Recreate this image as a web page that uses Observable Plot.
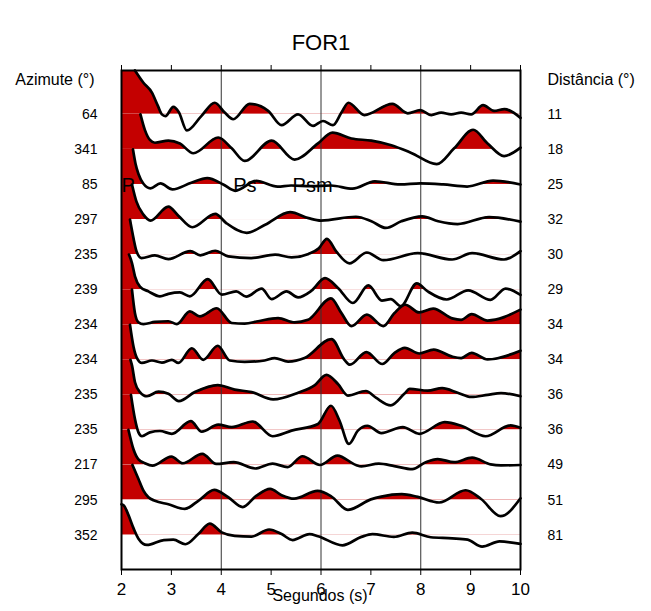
<!DOCTYPE html>
<html><head><meta charset="utf-8">
<script src="https://cdn.jsdelivr.net/npm/d3@7"></script>
<script src="https://cdn.jsdelivr.net/npm/@observablehq/plot@0.6"></script>
<style>body{margin:0;background:#fff}</style>
</head><body><div id="chart"></div>
<script>
// ---- data (time in s, amplitude in units of trace spacing) ----
const title = "FOR1";
const azimuths = [64, 341, 85, 297, 235, 239, 234, 234, 235, 235, 217, 295, 352];
const distances = [11, 18, 25, 32, 30, 29, 34, 34, 36, 36, 49, 51, 81];
const xTicks = [2, 3, 4, 5, 6, 7, 8, 9, 10];
const gridTimes = [4, 6, 8];
const phaseNames = ["P", "Ps", "Psm"];
const phaseTimes = [2.0, 4.24, 5.43];
const phaseTrace = 2;

const trace01 = [[2.00,1.25],[2.27,1.25],[2.44,0.90],[2.61,0.62],[2.73,0.24],[2.81,0.0],[2.88,-0.05],[3.04,0.21],[3.15,0.06],[3.31,-0.46],[3.60,-0.05],[3.87,0.33],[4.07,0.05],[4.24,-0.14],[4.57,0.30],[4.94,0.10],[5.21,-0.31],[5.54,0.0],[5.84,-0.33],[6.04,-0.19],[6.24,-0.31],[6.41,0.05],[6.55,0.33],[6.87,-0.02],[7.43,0.30],[7.74,0.03],[7.99,0.12],[8.21,-0.02],[8.41,0.05],[8.61,0.0],[8.81,0.05],[9.01,0.0],[9.25,0.26],[9.47,0.10],[9.68,0.15],[10.0,-0.10]];
const trace02 = [[2.00,1],[2.38,1],[2.47,0.55],[2.57,0.27],[2.67,0.19],[2.94,0.25],[3.17,0.17],[3.44,-0.11],[3.94,0.34],[4.21,0.03],[4.47,-0.33],[5.01,0.25],[5.47,-0.29],[5.94,0.17],[6.23,0.48],[6.61,0.31],[7.01,0.25],[7.41,0.12],[7.81,-0.10],[8.32,-0.42],[8.67,0.03],[9.05,0.56],[9.34,0.17],[9.67,-0.19],[10.0,0.05]];
const trace03 = [[2.00,1],[2.23,1],[2.28,0.6],[2.34,0.3],[2.44,0.02],[2.58,-0.11],[2.78,0.03],[3.02,-0.14],[3.40,0.05],[3.72,0.18],[4.04,0.0],[4.28,-0.18],[4.70,0.10],[5.13,-0.06],[5.40,-0.03],[5.80,-0.05],[6.20,-0.03],[6.63,-0.12],[7.08,0.09],[7.59,0.0],[7.99,0.03],[8.45,0.0],[8.93,-0.06],[9.45,0.11],[10.0,0.0]];
const trace04 = [[2.00,1],[2.21,1],[2.30,0.51],[2.44,0.14],[2.58,-0.03],[2.94,0.37],[3.14,0.11],[3.42,-0.22],[3.88,0.16],[4.10,-0.10],[4.51,-0.38],[4.88,-0.15],[5.38,0.21],[5.75,0.04],[6.00,-0.03],[6.70,0.08],[7.01,-0.05],[7.30,-0.24],[7.61,-0.05],[8.03,0.09],[8.35,-0.05],[8.74,-0.13],[9.37,0.07],[10.0,-0.06]];
const trace05 = [[2.00,1],[2.17,1],[2.24,0.47],[2.30,0.10],[2.40,-0.10],[2.67,-0.02],[2.94,-0.13],[3.38,0.10],[3.58,-0.02],[3.88,0.11],[4.14,-0.05],[4.60,-0.10],[5.08,0.0],[5.41,-0.08],[5.75,0.02],[5.95,0.17],[6.12,0.45],[6.30,0.10],[6.57,-0.25],[6.92,0.06],[7.25,-0.16],[7.94,0.04],[8.63,-0.14],[9.03,0.04],[9.67,-0.14],[10.0,0.10]];
const trace06 = [[2.00,1],[2.15,1],[2.21,0.76],[2.27,0.38],[2.37,0.09],[2.54,-0.05],[2.77,-0.19],[2.94,-0.12],[3.17,-0.08],[3.37,-0.19],[3.73,0.30],[4.01,-0.14],[4.30,-0.05],[4.50,-0.20],[4.81,0.03],[5.01,-0.27],[5.31,-0.05],[5.54,-0.22],[5.81,-0.03],[6.08,0.33],[6.34,0.05],[6.64,-0.38],[6.95,0.12],[7.22,-0.31],[7.40,-0.27],[7.60,-0.47],[7.92,0.18],[8.14,-0.05],[8.52,-0.28],[8.95,-0.02],[9.40,-0.29],[9.70,0.03],[10.0,-0.15]];
const trace07 = [[2.00,1],[2.21,1],[2.27,0.33],[2.34,0.07],[2.44,0.02],[2.67,0.08],[2.94,0.10],[3.11,0.02],[3.37,0.38],[3.57,0.24],[3.91,0.47],[4.21,0.05],[4.47,0.03],[4.74,0.10],[5.14,0.19],[5.47,0.07],[5.74,0.14],[6.20,0.75],[6.41,0.33],[6.61,-0.04],[6.92,0.29],[7.25,-0.04],[7.47,0.33],[7.69,0.57],[7.97,0.35],[8.25,0.46],[8.63,0.18],[8.81,0.14],[9.02,0.30],[9.34,0.12],[10.0,0.43]];
const trace08 = [[2.00,1],[2.17,1],[2.24,0.38],[2.31,0.05],[2.41,-0.09],[2.61,-0.02],[2.81,-0.08],[3.01,0.0],[3.14,-0.09],[3.41,0.33],[3.64,0.0],[3.93,0.40],[4.17,-0.02],[4.47,-0.06],[4.87,-0.02],[5.07,0.05],[5.34,-0.05],[5.67,0.05],[6.21,0.59],[6.47,0.0],[6.58,-0.14],[6.91,0.22],[7.23,-0.12],[7.47,0.19],[7.68,0.34],[7.97,0.18],[8.26,0.29],[8.63,0.09],[8.81,0.05],[9.02,0.20],[9.34,0.01],[10.0,0.26]];
const trace09 = [[2.00,1],[2.18,1],[2.21,0.84],[2.27,0.36],[2.37,0.08],[2.51,-0.04],[2.74,0.09],[2.94,0.03],[3.15,-0.18],[3.47,0.08],[3.93,0.28],[4.27,0.15],[4.61,0.08],[5.04,-0.13],[5.54,0.06],[5.87,0.27],[6.11,0.57],[6.34,0.31],[6.54,-0.02],[6.90,0.11],[7.10,-0.08],[7.40,-0.30],[7.67,0.03],[7.78,0.17],[8.14,0.12],[8.43,0.19],[8.74,0.06],[9.01,-0.06],[9.34,0.0],[9.61,0.05],[10.0,-0.04]];
const trace10 = [[2.00,1],[2.19,1],[2.27,0.31],[2.34,-0.07],[2.41,-0.18],[2.57,-0.07],[2.77,-0.03],[3.01,-0.11],[3.39,0.25],[3.61,-0.05],[3.94,0.15],[4.21,0.08],[4.63,0.24],[5.03,-0.18],[5.41,-0.02],[5.94,0.17],[6.20,0.69],[6.37,0.27],[6.56,-0.40],[6.74,-0.02],[6.93,0.12],[7.21,-0.09],[7.64,0.08],[7.97,-0.11],[8.48,0.22],[8.81,0.12],[9.30,-0.18],[9.80,0.13],[10.0,0.06]];
const trace11 = [[2.00,1],[2.14,1],[2.24,0.45],[2.34,0.16],[2.47,0.05],[2.62,-0.02],[3.00,0.24],[3.23,0.05],[3.62,0.32],[3.90,0.03],[4.25,0.08],[4.68,-0.10],[5.03,0.04],[5.33,-0.06],[5.63,0.25],[5.98,0.0],[6.33,0.27],[6.70,0.0],[6.81,-0.04],[7.16,0.04],[7.47,-0.03],[7.83,-0.12],[8.10,0.08],[8.34,0.17],[8.67,0.08],[9.03,0.21],[9.40,0.02],[9.61,-0.01],[10.0,0.0]];
const trace12 = [[2.00,1],[2.22,1],[2.34,0.60],[2.44,0.27],[2.54,0.08],[2.67,-0.02],[2.94,-0.12],[3.27,-0.25],[3.54,-0.02],[3.86,0.29],[4.14,0.08],[4.43,-0.20],[4.70,0.12],[4.98,0.32],[5.21,0.14],[5.46,0.04],[5.93,0.26],[6.21,0.10],[6.54,-0.28],[7.00,0.02],[7.21,0.10],[7.62,0.17],[7.94,0.09],[8.37,-0.07],[8.90,0.28],[9.21,0.03],[9.60,-0.46],[10.0,0.05]];
const trace13 = [[2.00,0.88],[2.05,0.84],[2.14,0.57],[2.24,0.20],[2.34,-0.10],[2.51,-0.28],[2.85,-0.14],[3.04,-0.13],[3.28,-0.26],[3.54,0.03],[3.77,0.33],[4.01,0.08],[4.27,-0.02],[4.61,-0.04],[4.96,0.16],[5.21,0.03],[5.43,-0.14],[5.77,0.03],[5.94,-0.03],[6.43,-0.29],[6.81,-0.05],[7.03,0.03],[7.46,-0.05],[7.83,0.07],[8.20,-0.06],[8.63,-0.09],[8.94,-0.13],[9.23,-0.33],[9.58,-0.18],[10.0,-0.25]];

const traces = [trace01, trace02, trace03, trace04, trace05, trace06, trace07, trace08, trace09, trace10, trace11, trace12, trace13];

// ---- style ----
const RED = "#c40000";
const FONT = "'Liberation Sans', Arial, Helvetica, sans-serif";
const Y_TOP = 1.25, Y_BOTTOM = -12.98;

const fillMarks = [];
const lineMarks = [];
traces.forEach((tr, i) => {
  const rows = tr.map(([t, a]) => ({t, a, y: -i + a, base: -i}));
  const clipLevel = i === 0 ? Y_TOP : 1;
  let start = 0;
  rows.forEach((r, k) => { if (r.a >= clipLevel) start = k; });
  fillMarks.push(Plot.areaY(rows, {x: "t", y1: "base", y2: "y", fill: RED, curve: "monotone-x"}));
  fillMarks.push(Plot.rect([i], {x1: 2, x2: 10, y1: d => -d, y2: d => Math.max(-d - 1, Y_BOTTOM), fill: "white"}));
  lineMarks.push(Plot.line(rows.slice(start), {x: "t", y: "y", stroke: "black", strokeWidth: 2.7, curve: "monotone-x"}));
});

const chart = Plot.plot({
  width: 651,
  height: 611,
  marginLeft: 121,
  marginRight: 131,
  marginTop: 70,
  marginBottom: 42,
  style: {fontFamily: FONT, color: "black", background: "white"},
  x: {domain: [2, 10]},
  y: {domain: [Y_BOTTOM, Y_TOP], axis: null},
  marks: [
    ...fillMarks,
    Plot.ruleX(gridTimes, {stroke: "#333", strokeWidth: 1}),
    ...lineMarks,
    Plot.frame({stroke: "black", strokeWidth: 2}),
    Plot.axisX({anchor: "bottom", ticks: xTicks, tickSize: 6, tickPadding: 7, fontSize: 17, label: null, tickFormat: d => String(d)}),
    Plot.axisX({anchor: "top", ticks: xTicks, tickSize: 6, fill: "none", label: null}),
    Plot.text(phaseNames, {x: (d, i) => phaseTimes[i], y: -phaseTrace, textAnchor: "start", fontSize: 20, dy: 1}),
    Plot.text(azimuths, {y: (d, i) => -i, frameAnchor: "left", dx: -24, textAnchor: "end", fontSize: 14}),
    Plot.text(distances, {y: (d, i) => -i, frameAnchor: "right", dx: 27, textAnchor: "start", fontSize: 14}),
    Plot.text(["Azimute (°)"], {frameAnchor: "top-left", dx: -27, dy: 3, textAnchor: "end", fontSize: 16}),
    Plot.text(["Distância (°)"], {frameAnchor: "top-right", dx: 27, dy: 3, textAnchor: "start", fontSize: 16}),
    Plot.text([title], {frameAnchor: "top", dx: 0, dy: -36, fontSize: 22}),
    Plot.text(["Segundos (s)"], {frameAnchor: "bottom", dx: -1, dy: 31, fontSize: 16})
  ]
});
document.getElementById("chart").append(chart);
</script></body></html>
